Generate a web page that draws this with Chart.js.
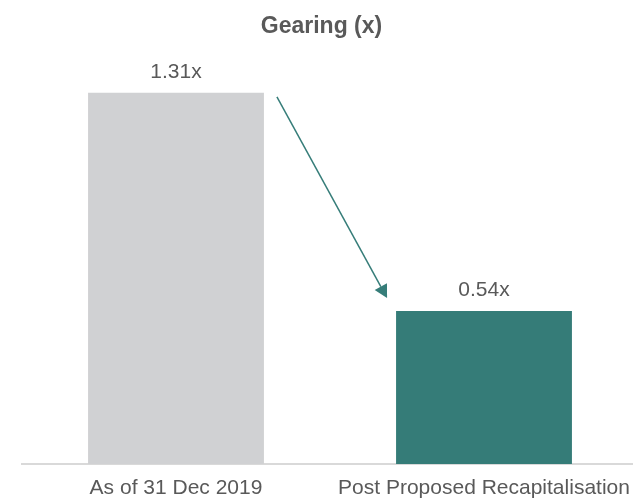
<!DOCTYPE html>
<html>
<head>
<meta charset="utf-8">
<script src="https://cdn.jsdelivr.net/npm/chart.js@4.4.1/dist/chart.umd.min.js"></script>
<style>
  html, body { margin: 0; padding: 0; background: #ffffff; overflow: hidden; }
  #wrap { width: 638px; height: 499px; }
</style>
</head>
<body>
<div id="wrap"><canvas id="c" width="638" height="499"></canvas></div>
<script>
// Gearing before and after the proposed recapitalisation
const categories = ['As of 31 Dec 2019', 'Post Proposed Recapitalisation'];
const gearing = [1.31, 0.54];
const barColors = ['#d0d1d3', '#357c78'];
const chartTitle = 'Gearing (x)';

const FONT = "'Liberation Sans', Arial, Helvetica, sans-serif";
const TEXT = '#595959';
const ARROW = '#367d79';

// Title, value labels above bars and the arrow showing the drop
const overlay = {
  id: 'overlay',
  afterDatasetsDraw(chart) {
    const ctx = chart.ctx;
    const meta = chart.getDatasetMeta(0);
    ctx.save();

    ctx.fillStyle = TEXT;
    ctx.textAlign = 'center';
    ctx.textBaseline = 'alphabetic';
    ctx.font = 'bold 23px ' + FONT;
    ctx.fillText(chartTitle, 321.5, 33);

    ctx.font = '21px ' + FONT;
    meta.data.forEach((bar, i) => {
      ctx.fillText(gearing[i].toFixed(2) + 'x', bar.x, bar.y - 15);
    });

    const b0 = meta.data[0], b1 = meta.data[1];
    const sx = b0.x + b0.width / 2 + 13, sy = b0.y + 4;
    const tx = b1.x - b1.width / 2 - 9, ty = b1.y - 13;
    const len = Math.hypot(tx - sx, ty - sy);
    const dx = (tx - sx) / len, dy = (ty - sy) / len;
    const head = 13, half = 7;
    const bx = tx - dx * head, by = ty - dy * head;
    ctx.strokeStyle = ARROW;
    ctx.lineWidth = 1.5;
    ctx.beginPath();
    ctx.moveTo(sx, sy);
    ctx.lineTo(bx, by);
    ctx.stroke();
    ctx.fillStyle = ARROW;
    ctx.beginPath();
    ctx.moveTo(tx, ty);
    ctx.lineTo(bx - dy * half, by + dx * half);
    ctx.lineTo(bx + dy * half, by - dx * half);
    ctx.closePath();
    ctx.fill();
    ctx.restore();
  }
};

new Chart(document.getElementById('c').getContext('2d'), {
  type: 'bar',
  data: {
    labels: categories,
    datasets: [{
      data: gearing,
      backgroundColor: barColors,
      borderWidth: 0,
      categoryPercentage: 1,
      barPercentage: 0.571
    }]
  },
  options: {
    responsive: false,
    animation: false,
    devicePixelRatio: 1,
    layout: { padding: { left: 22, right: 0, top: 39, bottom: 0 } },
    plugins: {
      legend: { display: false },
      tooltip: { enabled: false },
      title: { display: false }
    },
    scales: {
      x: {
        z: 1,
        afterFit(scale) {
          scale.height = 35;
          scale.paddingLeft = 0;
          scale.paddingRight = 0;
        },
        grid: { display: false, drawTicks: false, tickLength: 0 },
        border: { display: true, color: '#d9d9d9', width: 2 },
        ticks: {
          color: TEXT,
          font: { family: FONT, size: 21 },
          padding: 12,
          maxRotation: 0,
          minRotation: 0,
          autoSkip: false
        }
      },
      y: { display: false, min: 0, max: 1.5 }
    }
  },
  plugins: [overlay]
});
</script>
</body>
</html>
